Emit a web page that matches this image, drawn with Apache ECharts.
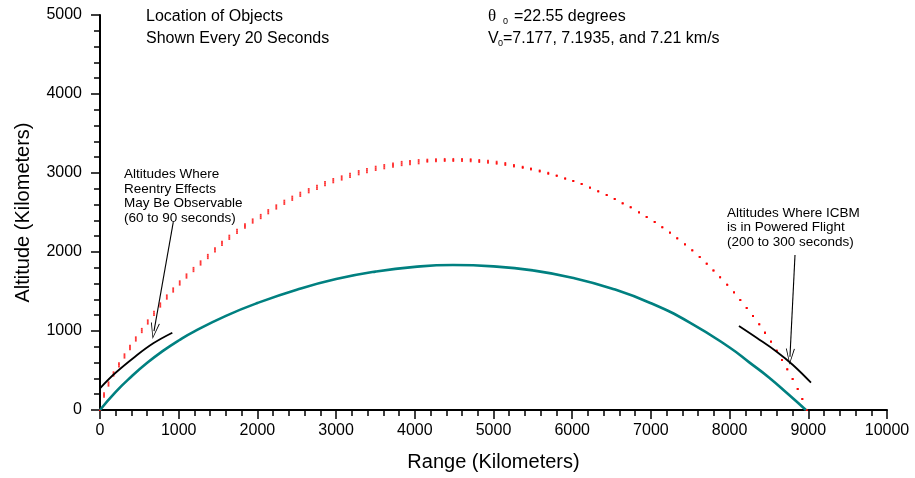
<!DOCTYPE html>
<html>
<head>
<meta charset="utf-8">
<script src="https://cdn.jsdelivr.net/npm/echarts@6.0.0/dist/echarts.min.js"></script>
<style>
  html, body { margin: 0; padding: 0; background: #fff; }
  #main { width: 915px; height: 478px; }
</style>
</head>
<body>
<div id="main"></div>
<script>
// axis ranges (km)
var xMax = 10000, yMax = 5000, tickStep = 1000;

// solid teal trajectory [range, altitude]
var tealPath = [[0,0],[200,230],[400,424],[600,597],[800,748],[1000,880],[1200,996],[1600,1192],
  [2000,1354],[2500,1522],[3000,1657],[3500,1752],[4000,1812],[4485,1835],[5000,1818],[5500,1767],
  [6000,1675],[6500,1539],[7000,1352],[7500,1104],[8000,791],[8250,603],[8500,412],[8750,195],[8970,0]];

// black segments
var reentryArc = [[0,275],[191,465],[445,675],[677,844],[919,978]];
var poweredArc = [[8119,1063],[8348,911],[8598,738],[8805,570],[9034,346]];

// arrows [from, to]
var reentryArrow = [[931,2379],[686,999]];
var poweredArrow = [[8831,1962],[8767,675]];

// red dots, one every 20 s
var dotX = [0,51,108,172,241,311,381,455,531,607,
  686,766,849,930,1013,1099,1188,1278,1370,1461,
  1550,1643,1741,1842,1940,2042,2138,2240,2342,2443,
  2545,2652,2757,2859,2964,3071,3177,3287,3392,3503,
  3612,3723,3833,3939,4049,4159,4269,4380,4489,4600,
  4710,4819,4930,5040,5150,5260,5371,5476,5587,5696,
  5803,5911,6014,6120,6226,6331,6438,6540,6641,6743,
  6849,6946,7048,7145,7242,7335,7433,7526,7620,7709,
  7795,7880,7970,8056,8136,8217,8297,8377,8450,8526,
  8598,8665,8733,8801,8865,8924,8979];
var dotMidY = [0,190,329,456,570,684,791,899,1006,1114,
  1222,1329,1430,1519,1608,1696,1778,1861,1943,2028,
  2108,2186,2262,2329,2392,2449,2510,2570,2629,2680,
  2730,2776,2819,2865,2903,2937,2971,3004,3029,3059,
  3080,3101,3120,3130,3143,3156,3161,3165,3165,3165,
  3161,3152,3143,3130,3114,3092,3072,3051,3025,2996,
  2966,2930,2899,2861,2814,2768,2721,2671,2616,2566,
  2502,2443,2380,2313,2244,2173,2097,2021,1937,1852,
  1766,1680,1586,1490,1392,1291,1190,1085,978,865,
  751,633,515,392,266,139,0];
// the other two objects, where they separate from the middle one
var dotHighY = [0,212,351,478,592,706,813,921,1028,1136,
  1244,1351,1452,1541,1630,1718,1800,1883,1965,2050,
  2130,2208,2284,2351,2414,2471,2532,2592,2651,2702,
  2752,2798,2841,2887,2925,2959,2993,3026,3051,3081,
  3102,3123,3142,3152,3165,3170,3175,3179,3179,3179,
  3175,3166,3157,3144,3128,3104,3080,3059,3033,3004];
var dotLowY = [0,168,307,434,548,662,769,877,984,1092,
  1200,1307,1408,1497,1586,1674,1756,1839,1921,2006,
  2086,2164,2240,2307,2370,2427,2488,2548,2607,2658,
  2708,2754,2797,2843,2881,2915,2949,2982,3007,3037,
  3058,3079,3098,3108,3121,3142,3147,3151,3151,3151,
  3147,3138,3129,3116,3100,3080,3064,3043,3017,2988];

function dots(ys) {
  return dotX.map(function (x, i) {
    return [x, i < ys.length ? ys[i] : dotMidY[i]];
  });
}

var font = '"Liberation Sans", Arial, sans-serif';
var chevron = 'path://M5,0 L10,16 L9,16 L5,2.5 L1,16 L0,16 Z';

function txt(x, y, s, size, fam) {
  return {
    type: 'text', x: x, y: y,
    style: {
      text: s, fill: '#000', font: size + 'px ' + (fam || font),
      align: 'left', verticalAlign: 'middle',
      textAlign: 'left', textVerticalAlign: 'middle'
    }
  };
}

function axisCommon(name, gap, margin) {
  return {
    type: 'value', min: 0, interval: tickStep,
    name: name, nameLocation: 'middle', nameGap: gap,
    nameTextStyle: { color: '#000', fontSize: 20, fontFamily: font },
    axisLine: { show: true, onZero: false, lineStyle: { color: '#000', width: 2 } },
    axisTick: { show: true, length: 9, lineStyle: { color: '#000', width: 1.5 } },
    minorTick: { show: true, splitNumber: 5, length: 6, lineStyle: { color: '#000', width: 1.5 } },
    axisLabel: { color: '#000', fontSize: 16, fontFamily: font, margin: margin,
      formatter: function (v) { return String(v); } },
    splitLine: { show: false }
  };
}

var chart = echarts.init(document.getElementById('main'));
var dotStyle = { color: '#ff0000' };
var xAxis = axisCommon('Range (Kilometers)', 42, 13);
xAxis.max = xMax;
var yAxis = axisCommon('Altitude (Kilometers)', 67, 18);
yAxis.max = yMax;

chart.setOption({
  animation: false,
  backgroundColor: '#fff',
  grid: { left: 100, right: 28, top: 15, bottom: 68, containLabel: false, outerBoundsMode: 'none' },
  xAxis: xAxis,
  yAxis: yAxis,
  series: [
    {
      type: 'line', data: tealPath, smooth: 0.5, showSymbol: false, silent: true,
      lineStyle: { color: '#008080', width: 2.6 }
    },
    {
      type: 'line', data: reentryArc, smooth: 0.4, showSymbol: false, silent: true,
      lineStyle: { color: '#000', width: 1.8 },
      markLine: {
        silent: true, symbol: ['none', chevron], symbolSize: [9, 16],
        label: { show: false },
        lineStyle: { color: '#000', width: 1.1, type: 'solid' },
        data: [
          [{ coord: reentryArrow[0] }, { coord: reentryArrow[1] }],
          [{ coord: poweredArrow[0] }, { coord: poweredArrow[1] }]
        ]
      }
    },
    {
      type: 'line', data: poweredArc, smooth: 0.4, showSymbol: false, silent: true,
      lineStyle: { color: '#000', width: 1.8 }
    },
    { type: 'scatter', data: dots(dotHighY), symbol: 'rect', symbolSize: 1.8, itemStyle: dotStyle, silent: true },
    { type: 'scatter', data: dots(dotMidY), symbol: 'rect', symbolSize: 1.8, itemStyle: dotStyle, silent: true },
    { type: 'scatter', data: dots(dotLowY), symbol: 'rect', symbolSize: 1.8, itemStyle: dotStyle, silent: true }
  ],
  graphic: [
    txt(146, 17, 'Location of Objects', 16),
    txt(146, 39, 'Shown Every 20 Seconds', 16),
    txt(488, 17, '\u03b8', 17, '"Liberation Serif", serif'),
    txt(503, 22, '0', 9),
    txt(514, 17, '=22.55 degrees', 16),
    txt(488, 39, 'V', 16),
    txt(498, 44, '0', 9),
    txt(503, 39, '=7.177, 7.1935, and 7.21 km/s', 16),
    txt(124, 174, 'Altitudes Where', 13.5),
    txt(124, 189, 'Reentry Effects', 13.5),
    txt(124, 203.5, 'May Be Observable', 13.5),
    txt(124, 218.5, '(60 to 90 seconds)', 13.5),
    txt(727, 213, 'Altitudes Where ICBM', 13.5),
    txt(727, 227.5, 'is in Powered Flight', 13.5),
    txt(727, 242.5, '(200 to 300 seconds)', 13.5)
  ]
});
</script>
</body>
</html>
